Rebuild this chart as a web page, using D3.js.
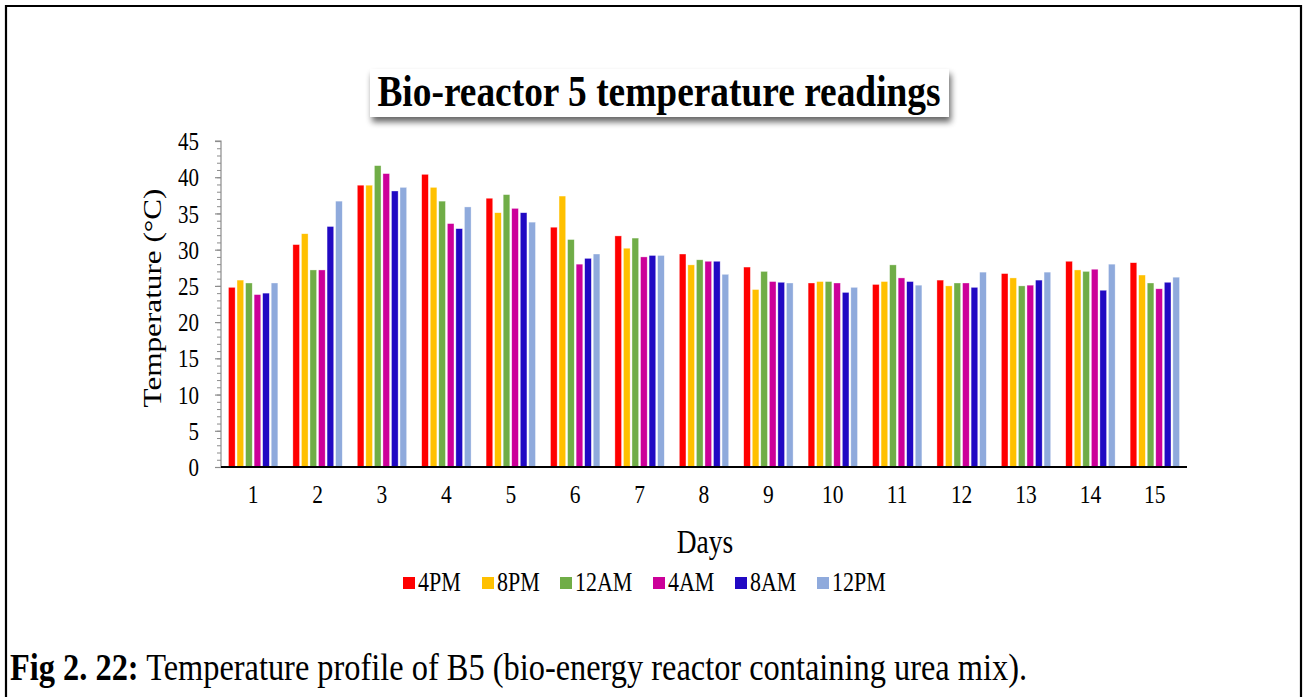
<!DOCTYPE html>
<html>
<head>
<meta charset="utf-8">
<script src="https://cdn.jsdelivr.net/npm/d3@7"></script>
<style>
  html, body { margin: 0; padding: 0; background: #fff; }
  svg { display: block; font-family: "Liberation Serif", "Times New Roman", serif; }
</style>
</head>
<body>
<svg id="chart" width="1303" height="697"></svg>
<script>
// Bio-reactor 5: temperature (°C) per day, six readings a day
const days = ["1","2","3","4","5","6","7","8","9","10","11","12","13","14","15"];
const times = ["4PM","8PM","12AM","4AM","8AM","12PM"];
const colors = ["#FF0000","#FFC000","#70AD47","#CC0099","#2109C3","#8FAADC"];
const yTicks = [0,5,10,15,20,25,30,35,40,45];

const temp4PM  = [24.8,30.7,38.9,40.4,37.1,33.1,31.9,29.4,27.6,25.4,25.2,25.8,26.7,28.4,28.2];
const temp8PM  = [25.8,32.2,38.9,38.6,35.1,37.4,30.2,27.9,24.5,25.6,25.6,25.0,26.1,27.2,26.5];
const temp12AM = [25.4,27.2,41.6,36.7,37.6,31.4,31.6,28.6,27.0,25.6,27.9,25.4,25.0,27.0,25.4];
const temp4AM  = [23.8,27.2,40.5,33.6,35.7,28.0,29.0,28.4,25.6,25.4,26.1,25.4,25.1,27.3,24.6];
const temp8AM  = [24.0,33.2,38.1,32.9,35.1,28.8,29.2,28.4,25.5,24.1,25.6,24.8,25.8,24.4,25.5];
const temp12PM = [25.4,36.7,38.6,35.9,33.8,29.4,29.2,26.6,25.4,24.8,25.1,26.9,26.9,28.0,26.2];

const series = [temp4PM, temp8PM, temp12AM, temp4AM, temp8AM, temp12PM];

(function draw() {
  const svg = d3.select("#chart");
  const SY = 1.2; // the serif lettering is set tall and narrow (stretched along the page's vertical)

  // text placed at a baseline point, stretched vertically on the page about that point
  function label(parent, x, y, size, txt, opts = {}) {
    const stretch = opts.rotate ? `scale(${SY},1)` : `scale(1,${SY})`;
    const gg = parent.append("g")
      .attr("transform", `translate(${x},${y})${opts.rotate ? ` rotate(${opts.rotate})` : ""} ${stretch}`);
    const t = gg.append("text")
      .attr("x", 0).attr("y", 0)
      .attr("font-size", size)
      .attr("text-anchor", opts.anchor || "start")
      .attr("fill", "#000");
    if (opts.bold) t.attr("font-weight", "bold");
    if (txt !== null) t.text(txt);
    return t;
  }

  // outer frame
  svg.append("path")
    .attr("d", "M6,697 V6 H1301 V697")
    .attr("fill", "none").attr("stroke", "#000").attr("stroke-width", 2.2);

  // plot area
  const pLeft = 221, pRight = 1187, pTop = 141, pBottom = 467;

  const x0 = d3.scaleBand().domain(days).range([pLeft, pRight]).paddingInner(0.233).paddingOuter(0.116);
  const x1 = d3.scaleBand().domain(times).range([0, x0.bandwidth()]).paddingInner(0.22).paddingOuter(0);
  const y = d3.scaleLinear().domain([0, 45]).range([pBottom, pTop]);

  // bars
  const g = svg.append("g");
  days.forEach((d, i) => {
    const grp = g.append("g").attr("transform", `translate(${x0(d)},0)`);
    times.forEach((t, j) => {
      const v = series[j][i];
      grp.append("rect")
        .attr("x", x1(t))
        .attr("y", y(v))
        .attr("width", x1.bandwidth())
        .attr("height", y(0) - y(v))
        .attr("fill", colors[j])
        .attr("stroke", "rgba(255,255,255,0.6)")
        .attr("stroke-width", 0.6);
    });
  });

  // y axis with minor ticks
  svg.append("g").attr("transform", `translate(${pLeft},0)`)
    .call(d3.axisLeft(y).tickValues(d3.range(0, 46, 1)).tickSize(4).tickFormat(""))
    .call(a => a.select(".domain").remove())
    .call(a => a.selectAll("line").attr("stroke", "#8c8c8c").attr("stroke-width", 1));
  svg.append("g").attr("transform", `translate(${pLeft},0)`)
    .call(d3.axisLeft(y).tickValues(yTicks).tickSize(6).tickPadding(16))
    .call(a => a.select(".domain").attr("stroke", "#8c8c8c").attr("stroke-width", 1.2).attr("d", `M-6,${pTop}H0V${pBottom}`))
    .call(a => a.selectAll("line").attr("stroke", "#8c8c8c").attr("stroke-width", 1.2))
    .call(a => a.selectAll("text")
      .attr("font-size", 21).attr("fill", "#000").attr("font-family", "Liberation Serif")
      .attr("dy", "0.34em").attr("transform", `scale(1,${SY})`));

  // x axis
  svg.append("g").attr("transform", `translate(0,${pBottom})`)
    .call(d3.axisBottom(x0).tickSize(0).tickFormat(""))
    .call(a => a.select(".domain").attr("stroke", "#000").attr("stroke-width", 2).attr("d", `M${pLeft},0H${pRight}`));
  const xl = svg.append("g");
  days.forEach(d => label(xl, x0(d) + x0.bandwidth() / 2, 503, 21.5, d, { anchor: "middle" }));

  // axis titles
  label(svg, 161, 298, 26, "Temperature (°C)", { anchor: "middle", rotate: -90 });
  label(svg, (pLeft + pRight) / 2 + 1, 553, 27.5, "Days", { anchor: "middle" });

  // title box with soft shadow
  const defs = svg.append("defs");
  const f = defs.append("filter").attr("id", "shadow").attr("x", "-10%").attr("y", "-30%").attr("width", "120%").attr("height", "180%");
  f.append("feGaussianBlur").attr("in", "SourceAlpha").attr("stdDeviation", 3).attr("result", "b");
  f.append("feOffset").attr("in", "b").attr("dx", 2).attr("dy", 5).attr("result", "o");
  f.append("feComponentTransfer").attr("in", "o").attr("result", "s")
    .append("feFuncA").attr("type", "linear").attr("slope", 0.6);
  const m = f.append("feMerge");
  m.append("feMergeNode").attr("in", "s");
  m.append("feMergeNode").attr("in", "SourceGraphic");

  svg.append("rect")
    .attr("x", 370).attr("y", 69).attr("width", 579).attr("height", 48)
    .attr("fill", "#fff")
    .attr("filter", "url(#shadow)");
  label(svg, 659, 106, 37.4, "Bio-reactor 5 temperature readings", { anchor: "middle", bold: true });

  // legend
  const legendX = [403, 482, 560, 653, 735, 817];
  const lg = svg.append("g");
  times.forEach((t, j) => {
    lg.append("rect").attr("x", legendX[j]).attr("y", 577).attr("width", 12).attr("height", 12).attr("fill", colors[j]);
    label(lg, legendX[j] + 15, 591, 22, t);
  });

  // caption
  const cap = label(svg, 10, 680, 32.4, null);
  cap.append("tspan").attr("font-weight", "bold").text("Fig 2. 22:");
  cap.append("tspan").text(" Temperature profile of B5 (bio-energy reactor containing urea mix).");
})();
</script>
</body>
</html>
